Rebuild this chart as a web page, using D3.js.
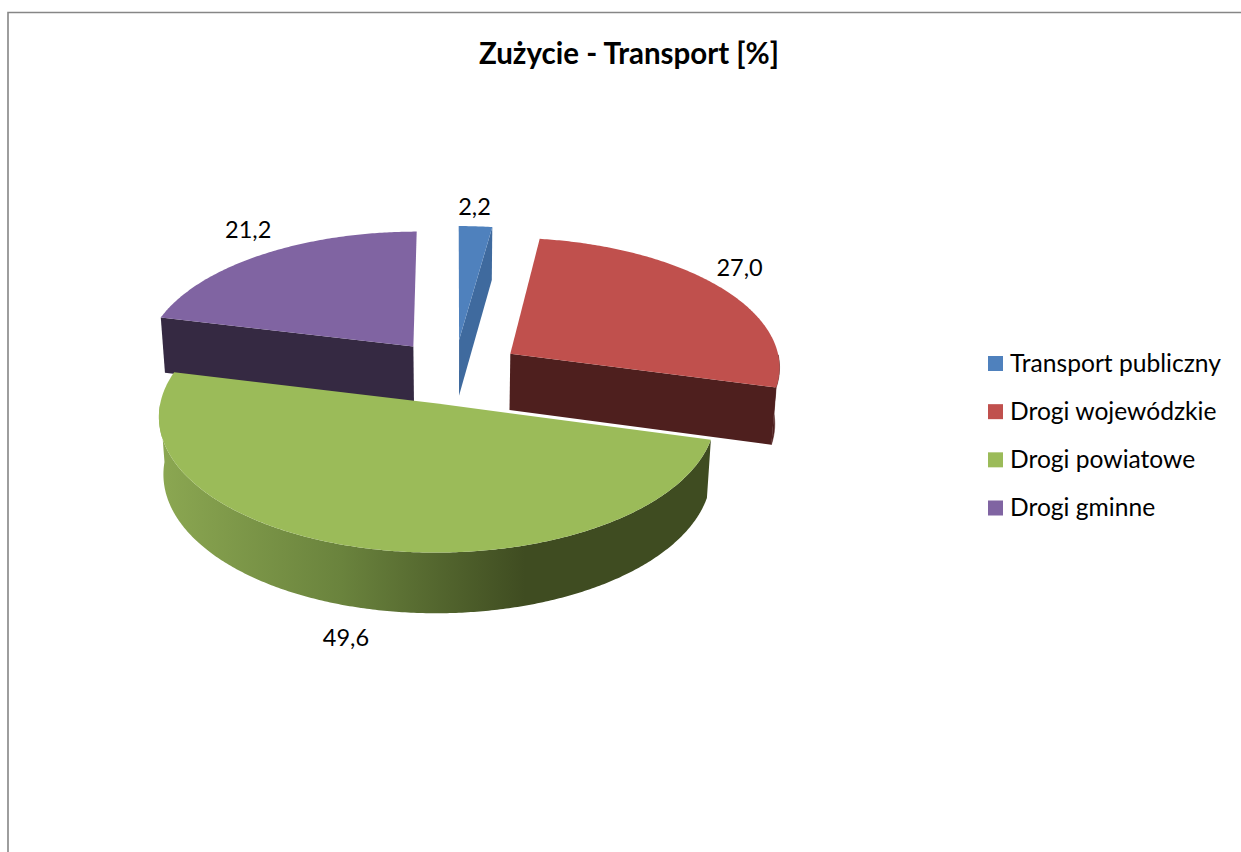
<!DOCTYPE html>
<html>
<head>
<meta charset="utf-8">
<title>Zużycie - Transport</title>
<script src="https://cdn.jsdelivr.net/npm/d3@7"></script>
<style>
  html, body { margin: 0; padding: 0; background: #fff; }
  svg { display: block; }
  text { font-family: Lato, "Open Sans", sans-serif; fill: #000; }
</style>
</head>
<body>
<div id="chart"></div>
<script>
var title = "Zużycie - Transport [%]";
var categories = ["Transport publiczny", "Drogi wojewódzkie", "Drogi powiatowe", "Drogi gminne"];
var values = [2.2, 27.0, 49.6, 21.2];
var valueLabels = ["2,2", "27,0", "49,6", "21,2"];
var topColors = ["#4f81bd", "#c0504d", "#9bbb59", "#8064a2"];
var wallColors = ["#3f6a9e", "#4e1f1e", "#3f4c21", "#352942"];

var width = 1241;
var height = 852;

// pie geometry, fitted on the picture
var cx = 454.5, cy = 371.5;
var rx = 271, ry = 129.5; // radius on screen, before perspective
var depth = 57.5;         // thickness of the pie
var explode = 0.25;       // how far the slices are pulled out (in radii)
var persp = 0.09;         // things near the viewer get bigger
var perspZ = 0.015;       // bottom of the wall is a bit smaller

// label position relative to the middle of the outer edge of each slice
var labelNudge = [[-1, -19], [19, -19], [-14, 91], [-14, -25]];

var svg = d3.select("#chart").append("svg")
    .attr("width", width)
    .attr("height", height);

// chart border, only top and left are in the picture
svg.append("path")
    .attr("d", "M8,852V12.5H1241")
    .attr("fill", "none")
    .attr("stroke", "#868686")
    .attr("stroke-width", 1.6);

var defs = svg.append("defs");
var wallGrad = defs.append("linearGradient")
    .attr("id", "greenwall")
    .attr("gradientUnits", "userSpaceOnUse")
    .attr("x1", 157).attr("x2", 525)
    .attr("y1", 0).attr("y2", 0);
wallGrad.append("stop").attr("offset", "0%").attr("stop-color", "#8ca852");
wallGrad.append("stop").attr("offset", "50%").attr("stop-color", "#6a833d");
wallGrad.append("stop").attr("offset", "100%").attr("stop-color", "#3f4c21");

function project(u, v, z) {
    var s = 1 / (1 - persp * v + perspZ * z);
    return [cx + rx * u * s, cy + (ry * v + depth * z) * s];
}

var pie = d3.pie().sort(null).value(function (d) { return d; });
var slices = pie(values);
var line = d3.line();

slices.forEach(function (d, i) {
    var mid = (d.startAngle + d.endAngle) / 2;
    d.offU = explode * Math.sin(mid);
    d.offV = -explode * Math.cos(mid);
    d.index = i;
    d.angles = d3.range(d.startAngle, d.endAngle, 0.01).concat([d.endAngle]);
    // only the front part of the rim is a visible wall
    d.frontAngles = d.angles.filter(function (a) { return Math.cos(a) <= 0; });
});

function rimPoint(d, a, z) {
    return project(d.offU + Math.sin(a), d.offV - Math.cos(a), z);
}
function apexPoint(d, z) {
    return project(d.offU, d.offV, z);
}
function cutFace(d, a) {
    return line([apexPoint(d, 0), rimPoint(d, a, 0), rimPoint(d, a, 1), apexPoint(d, 1)]) + "Z";
}
function outerWall(d) {
    var top = d.frontAngles.map(function (a) { return rimPoint(d, a, 0); });
    var bottom = d.frontAngles.slice().reverse().map(function (a) { return rimPoint(d, a, 1); });
    return line(top.concat(bottom)) + "Z";
}
function topFace(d) {
    var pts = d.angles.map(function (a) { return rimPoint(d, a, 0); });
    return line([apexPoint(d, 0)].concat(pts)) + "Z";
}

// back to front: gminne, publiczny, wojewódzkie, powiatowe
var drawOrder = [slices[3], slices[0], slices[1], slices[2]];

var groups = svg.selectAll("g.slice")
    .data(drawOrder)
    .enter()
    .append("g")
    .attr("class", "slice");

// a cut is only seen when it faces the viewer
groups.filter(function (d) { return d.frontAngles.length > 1; })
    .append("path")
    .attr("d", outerWall)
    .attr("fill", function (d) { return d.index === 2 ? "url(#greenwall)" : wallColors[d.index]; })
    .attr("stroke", function (d) { return d.index === 2 ? "none" : wallColors[d.index]; })
    .attr("stroke-width", 0.5);

groups.filter(function (d) { return Math.sin(d.startAngle) < -1e-6; })
    .append("path")
    .attr("d", function (d) { return cutFace(d, d.startAngle); })
    .attr("fill", function (d) { return wallColors[d.index]; });

groups.filter(function (d) { return Math.sin(d.endAngle) > 1e-6; })
    .append("path")
    .attr("d", function (d) { return cutFace(d, d.endAngle); })
    .attr("fill", function (d) { return wallColors[d.index]; });

groups.append("path")
    .attr("d", topFace)
    .attr("fill", function (d) { return topColors[d.index]; });

// value labels
svg.selectAll("text.value")
    .data(slices)
    .enter()
    .append("text")
    .attr("class", "value")
    .text(function (d, i) { return valueLabels[i]; })
    .attr("text-anchor", "middle")
    .attr("font-size", 23.5)
    .attr("x", function (d, i) {
        return rimPoint(d, (d.startAngle + d.endAngle) / 2, 0)[0] + labelNudge[i][0];
    })
    .attr("y", function (d, i) {
        return rimPoint(d, (d.startAngle + d.endAngle) / 2, 0)[1] + labelNudge[i][1] + 8;
    });

svg.append("text")
    .text(title)
    .attr("x", 629)
    .attr("y", 64)
    .attr("text-anchor", "middle")
    .attr("font-size", 29.5)
    .attr("font-weight", 700);

// legend
var legendY = d3.scalePoint()
    .domain(categories)
    .range([363.5, 508]);

var legend = svg.selectAll("g.legend")
    .data(categories)
    .enter()
    .append("g")
    .attr("class", "legend")
    .attr("transform", function (d) { return "translate(988," + legendY(d) + ")"; });

legend.append("rect")
    .attr("x", 0)
    .attr("y", -7.5)
    .attr("width", 15)
    .attr("height", 15)
    .attr("fill", function (d, i) { return topColors[i]; });

legend.append("text")
    .text(function (d) { return d; })
    .attr("x", 22)
    .attr("y", 8)
    .attr("font-size", 24.6);
</script>
</body>
</html>
